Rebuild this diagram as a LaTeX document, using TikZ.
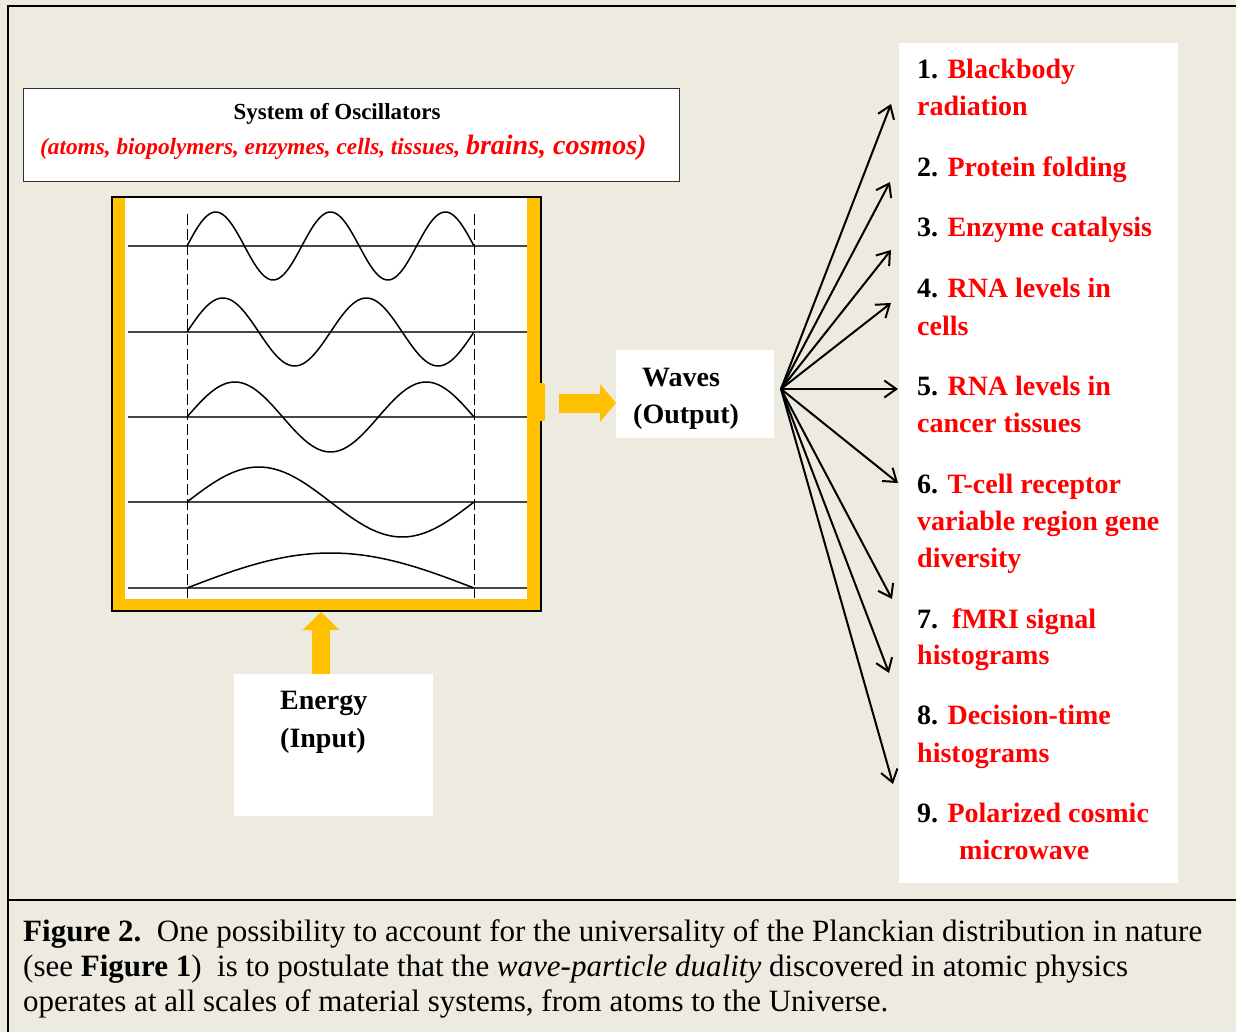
\documentclass[tikz,border=0pt]{standalone}
\usepackage{fontspec}
\setmainfont{Liberation Serif}
\usetikzlibrary{arrows.meta}
\definecolor{bg}{RGB}{237,234,224}
\definecolor{gold}{RGB}{255,192,0}
\definecolor{redtxt}{RGB}{255,0,0}
\definecolor{axisgray}{RGB}{70,70,70}
\begin{document}
\begin{tikzpicture}[x=1pt,y=-1pt,
  whitebox/.style={fill=white, draw=none, inner sep=0, anchor=north west},
  big/.style={font=\fontsize{28}{34}\selectfont\bfseries, inner sep=0, anchor=base west},
  captext/.style={font=\fontsize{31}{36}\selectfont, inner sep=0, anchor=base west},
  frameline/.style={line width=1.3pt, black},
  axisline/.style={line width=1.2pt, axisgray},
  waveline/.style={line width=1.5pt, black},
  dashline/.style={line width=1pt, black, dash pattern=on 11pt off 4pt},
  fanarrow/.style={line width=2pt, black, -{Straight Barb[length=12pt,width=17pt,line width=2pt]}},
  goldarrow/.style={gold, line cap=butt}
]
\useasboundingbox (0,0) rectangle (1236,1032);
\fill[bg] (0,0) rectangle (1236,1032);
% outer frame
\draw[frameline] (7,6) -- (1236,6);
\draw[frameline] (8,6) -- (8,1032);
\draw[frameline] (8,900) -- (1236,900);

% title box
\node[draw=black!80, line width=1.2pt, fill=white, inner sep=0, minimum width=656pt, minimum height=93pt, anchor=north west] (title) at (23,88) {};
\node[font=\fontsize{23}{28}\selectfont\bfseries, inner sep=0, anchor=base] (titleA) at (337,120) {System of Oscillators};
\node[inner sep=0, anchor=base west, text=redtxt, font=\bfseries\itshape] (titleB) at (40,155)
  {{\fontsize{23.3}{28}\selectfont (atoms, biopolymers, enzymes, cells, tissues, }{\fontsize{28}{34}\selectfont brains, cosmos)}};

% oscillator box
\node[inner sep=0, minimum width=429pt, minimum height=414pt, anchor=north west, fill=white] (osc) at (112,197) {};
\fill[gold] (113,198) rectangle (125,610);
\fill[gold] (527,198) rectangle (540,610);
\fill[gold] (113,599) rectangle (540,610);
\draw[line width=2pt, black] (osc.north west) rectangle (osc.south east);
\node[fill=gold, inner sep=0, minimum width=18pt, minimum height=38pt, rounded corners=1.5pt, anchor=north west] (tab) at (527,383) {};

% axes, dashes, waves
\foreach \yy in {246,332,417,502,588} {
  \draw[axisline] (128,\yy) -- (527,\yy);
}
\draw[dashline] (187,214) -- (187,598);
\draw[dashline] (474,214) -- (474,598);
\draw[waveline] plot[domain=0:1, samples=120, smooth] ({187+287*\x},{246-34*sin(5*180*\x)});
\draw[waveline] plot[domain=0:1, samples=120, smooth] ({187+287*\x},{332-34*sin(4*180*\x)});
\draw[waveline] plot[domain=0:1, samples=100, smooth] ({187+287*\x},{417-35*sin(3*180*\x)});
\draw[waveline] plot[domain=0:1, samples=80, smooth] ({187+287*\x},{502-35*sin(2*180*\x)});
\draw[waveline] plot[domain=0:1, samples=60, smooth] ({187+287*\x},{588-35*sin(1*180*\x)});

% waves output box
\node[whitebox, minimum width=158pt, minimum height=88pt] (waves) at (616,350) {};
\node[big] (wavesA) at (642,386) {Waves};
\node[big] (wavesB) at (633,423) {(Output)};
\coordinate (outA) at (559,403);
\coordinate (outB) at (616,403);
\draw[goldarrow, line width=19pt, -{Triangle[length=16pt,width=37pt]}] (outA) -- (outB);

% energy box
\node[whitebox, minimum width=199pt, minimum height=142pt] (energy) at (234,674) {};
\node[big] (energyA) at (280,709) {Energy};
\node[big] (energyB) at (280,747) {(Input)};
\coordinate (inA) at (321,674);
\coordinate (inB) at (321,612);
\draw[goldarrow, line width=18pt, -{Triangle[length=18pt,width=36pt]}] (inA) -- (inB);

% list box
\node[whitebox, minimum width=279pt, minimum height=840pt] (list) at (899,43) {};
\node[big] (l1) at (917,79) {1. \textcolor{redtxt}{Blackbody}};
\node[big, text=redtxt] (l1b) at (917,116) {radiation};
\node[big] (l2) at (917,177) {2. \textcolor{redtxt}{Protein folding}};
\node[big] (l3) at (917,237) {3. \textcolor{redtxt}{Enzyme catalysis}};
\node[big] (l4) at (917,298) {4. \textcolor{redtxt}{RNA levels in}};
\node[big, text=redtxt] (l4b) at (917,335) {cells};
\node[big] (l5) at (917,395) {5. \textcolor{redtxt}{RNA levels in}};
\node[big, text=redtxt] (l5b) at (917,432) {cancer tissues};
\node[big] (l6) at (917,493) {6. \textcolor{redtxt}{T-cell receptor}};
\node[big, text=redtxt] (l6b) at (917,530) {variable region gene};
\node[big, text=redtxt] (l6c) at (917,567) {diversity};
\node[big] (l7) at (917,628) {7.\ \ \textcolor{redtxt}{fMRI signal}};
\node[big, text=redtxt] (l7b) at (917,664) {histograms};
\node[big] (l8) at (917,724) {8. \textcolor{redtxt}{Decision-time}};
\node[big, text=redtxt] (l8b) at (917,762) {histograms};
\node[big] (l9) at (917,822) {9. \textcolor{redtxt}{Polarized cosmic}};
\node[big, text=redtxt] (l9b) at (959,859) {microwave};

% fan of arrows
\coordinate (hub) at (781,389);
\coordinate (t1) at (891,104);
\coordinate (t2) at (890,182);
\coordinate (t3) at (891,250);
\coordinate (t4) at (891,303);
\coordinate (t5) at (898,389);
\coordinate (t6) at (898,483);
\coordinate (t7) at (892,599);
\coordinate (t8) at (889,673);
\coordinate (t9) at (893,784);
\foreach \t in {t1,t2,t3,t4,t5,t6,t7,t8,t9} {
  \draw[fanarrow] (hub) -- (\t);
}

% caption
\node[captext] (capA) at (23,941) {\textbf{Figure 2.}\ \ One possibility to account for the universality of the Planckian distribution in nature};
\node[captext] (capB) at (23,976) {(see \textbf{Figure 1})\ \ is to postulate that the \textit{wave-particle duality} discovered in atomic physics};
\node[captext] (capC) at (23,1011) {operates at all scales of material systems, from atoms to the Universe.};
\end{tikzpicture}
\end{document}
